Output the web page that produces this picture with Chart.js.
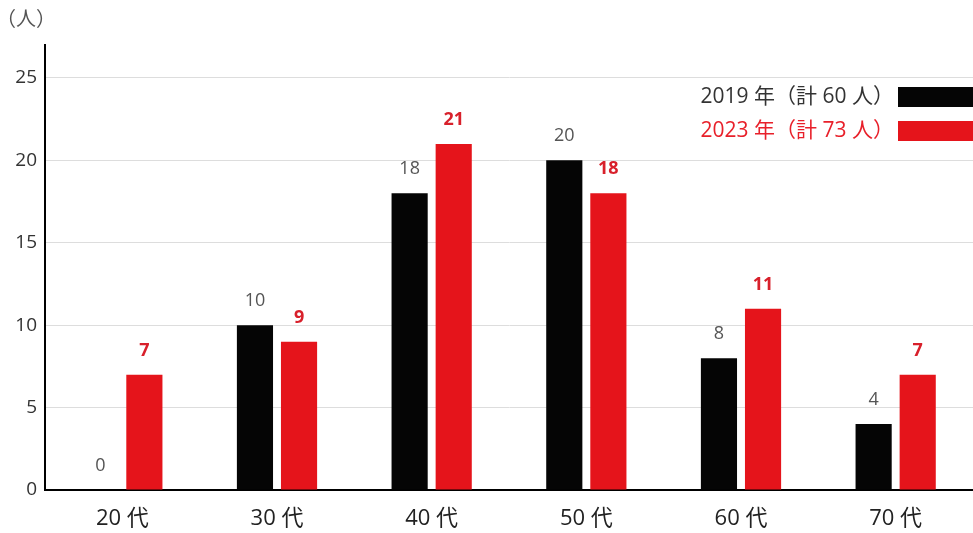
<!DOCTYPE html>
<html lang="ja">
<head>
<meta charset="UTF-8" />
<title>年代別人数</title>
<script src="https://cdn.jsdelivr.net/npm/chart.js"></script>
<style>
  html, body { margin: 0; padding: 0; background: #fff; }
  .wrap { width: 973px; height: 533px; position: relative; }
</style>
</head>
<body>
<div class="wrap"><canvas id="c" width="973" height="533"></canvas></div>
<script>
const categories = ['20 代', '30 代', '40 代', '50 代', '60 代', '70 代'];
const values2019 = [0, 10, 18, 20, 8, 4];
const values2023 = [7, 9, 21, 18, 11, 7];
const seriesLabels = ['2019 年（計 60 人）', '2023 年（計 73 人）'];
const yTicks = [0, 5, 10, 15, 20, 25];

const FONT = '"Open Sans", "Noto Sans CJK JP", sans-serif';
const BLACK = '#050505';
const RED = '#e5141b';

// 棒の上の数値
const valueLabels = {
  id: 'valueLabels',
  afterDatasetsDraw(chart) {
    const ctx = chart.ctx;
    ctx.save();
    ctx.textAlign = 'center';
    ctx.textBaseline = 'middle';
    chart.data.datasets.forEach((ds, i) => {
      const meta = chart.getDatasetMeta(i);
      meta.data.forEach((bar, j) => {
        if (i === 0) {
          ctx.fillStyle = '#555';
          ctx.font = '18px ' + FONT;
        } else {
          ctx.fillStyle = '#d8202b';
          ctx.font = 'bold 18px ' + FONT;
        }
        ctx.fillText(String(ds.data[j]), bar.x, bar.y - 24);
      });
    });
    ctx.restore();
  }
};

// 右上の凡例と（人）
const extras = {
  id: 'extras',
  afterDraw(chart) {
    const ctx = chart.ctx;
    ctx.save();
    ctx.font = '20px ' + FONT;
    ctx.fillStyle = '#555';
    ctx.textAlign = 'left';
    ctx.textBaseline = 'middle';
    ctx.fillText('（人）', -4, 20);

    const colors = [BLACK, RED];
    const textColors = ['#333', '#e8202a'];
    const rows = [97, 131];
    ctx.font = '21px ' + FONT;
    ctx.textAlign = 'right';
    rows.forEach((y, i) => {
      ctx.fillStyle = textColors[i];
      ctx.fillText(seriesLabels[i], 894, y);
      ctx.fillStyle = colors[i];
      ctx.fillRect(898, y - 10, 75, 20);
    });
    ctx.restore();
  }
};

new Chart(document.getElementById('c'), {
  type: 'bar',
  data: {
    labels: categories,
    datasets: [
      { label: seriesLabels[0], data: values2019, backgroundColor: BLACK },
      { label: seriesLabels[1], data: values2023, backgroundColor: RED }
    ]
  },
  options: {
    responsive: false,
    animation: false,
    layout: { padding: { top: 45, right: 0, left: 0, bottom: 0 } },
    categoryPercentage: 0.57,
    barPercentage: 0.82,
    plugins: {
      legend: { display: false },
      tooltip: { enabled: false }
    },
    scales: {
      x: {
        grid: { display: false },
        border: { color: '#000', width: 2 },
        ticks: {
          color: '#222',
          font: { family: FONT, size: 22 },
          padding: 8
        },
        afterFit(scale) { scale.height = 43; }
      },
      y: {
        min: 0,
        max: 27,
        afterBuildTicks(scale) {
          scale.ticks = yTicks.map(v => ({ value: v }));
        },
        grid: { color: '#dddddd', lineWidth: 1, drawTicks: false },
        border: { color: '#000', width: 2 },
        ticks: {
          color: '#333',
          font: { family: FONT, size: 19 },
          padding: 8
        },
        afterFit(scale) { scale.width = 45; }
      }
    }
  },
  plugins: [valueLabels, extras]
});
</script>
</body>
</html>
